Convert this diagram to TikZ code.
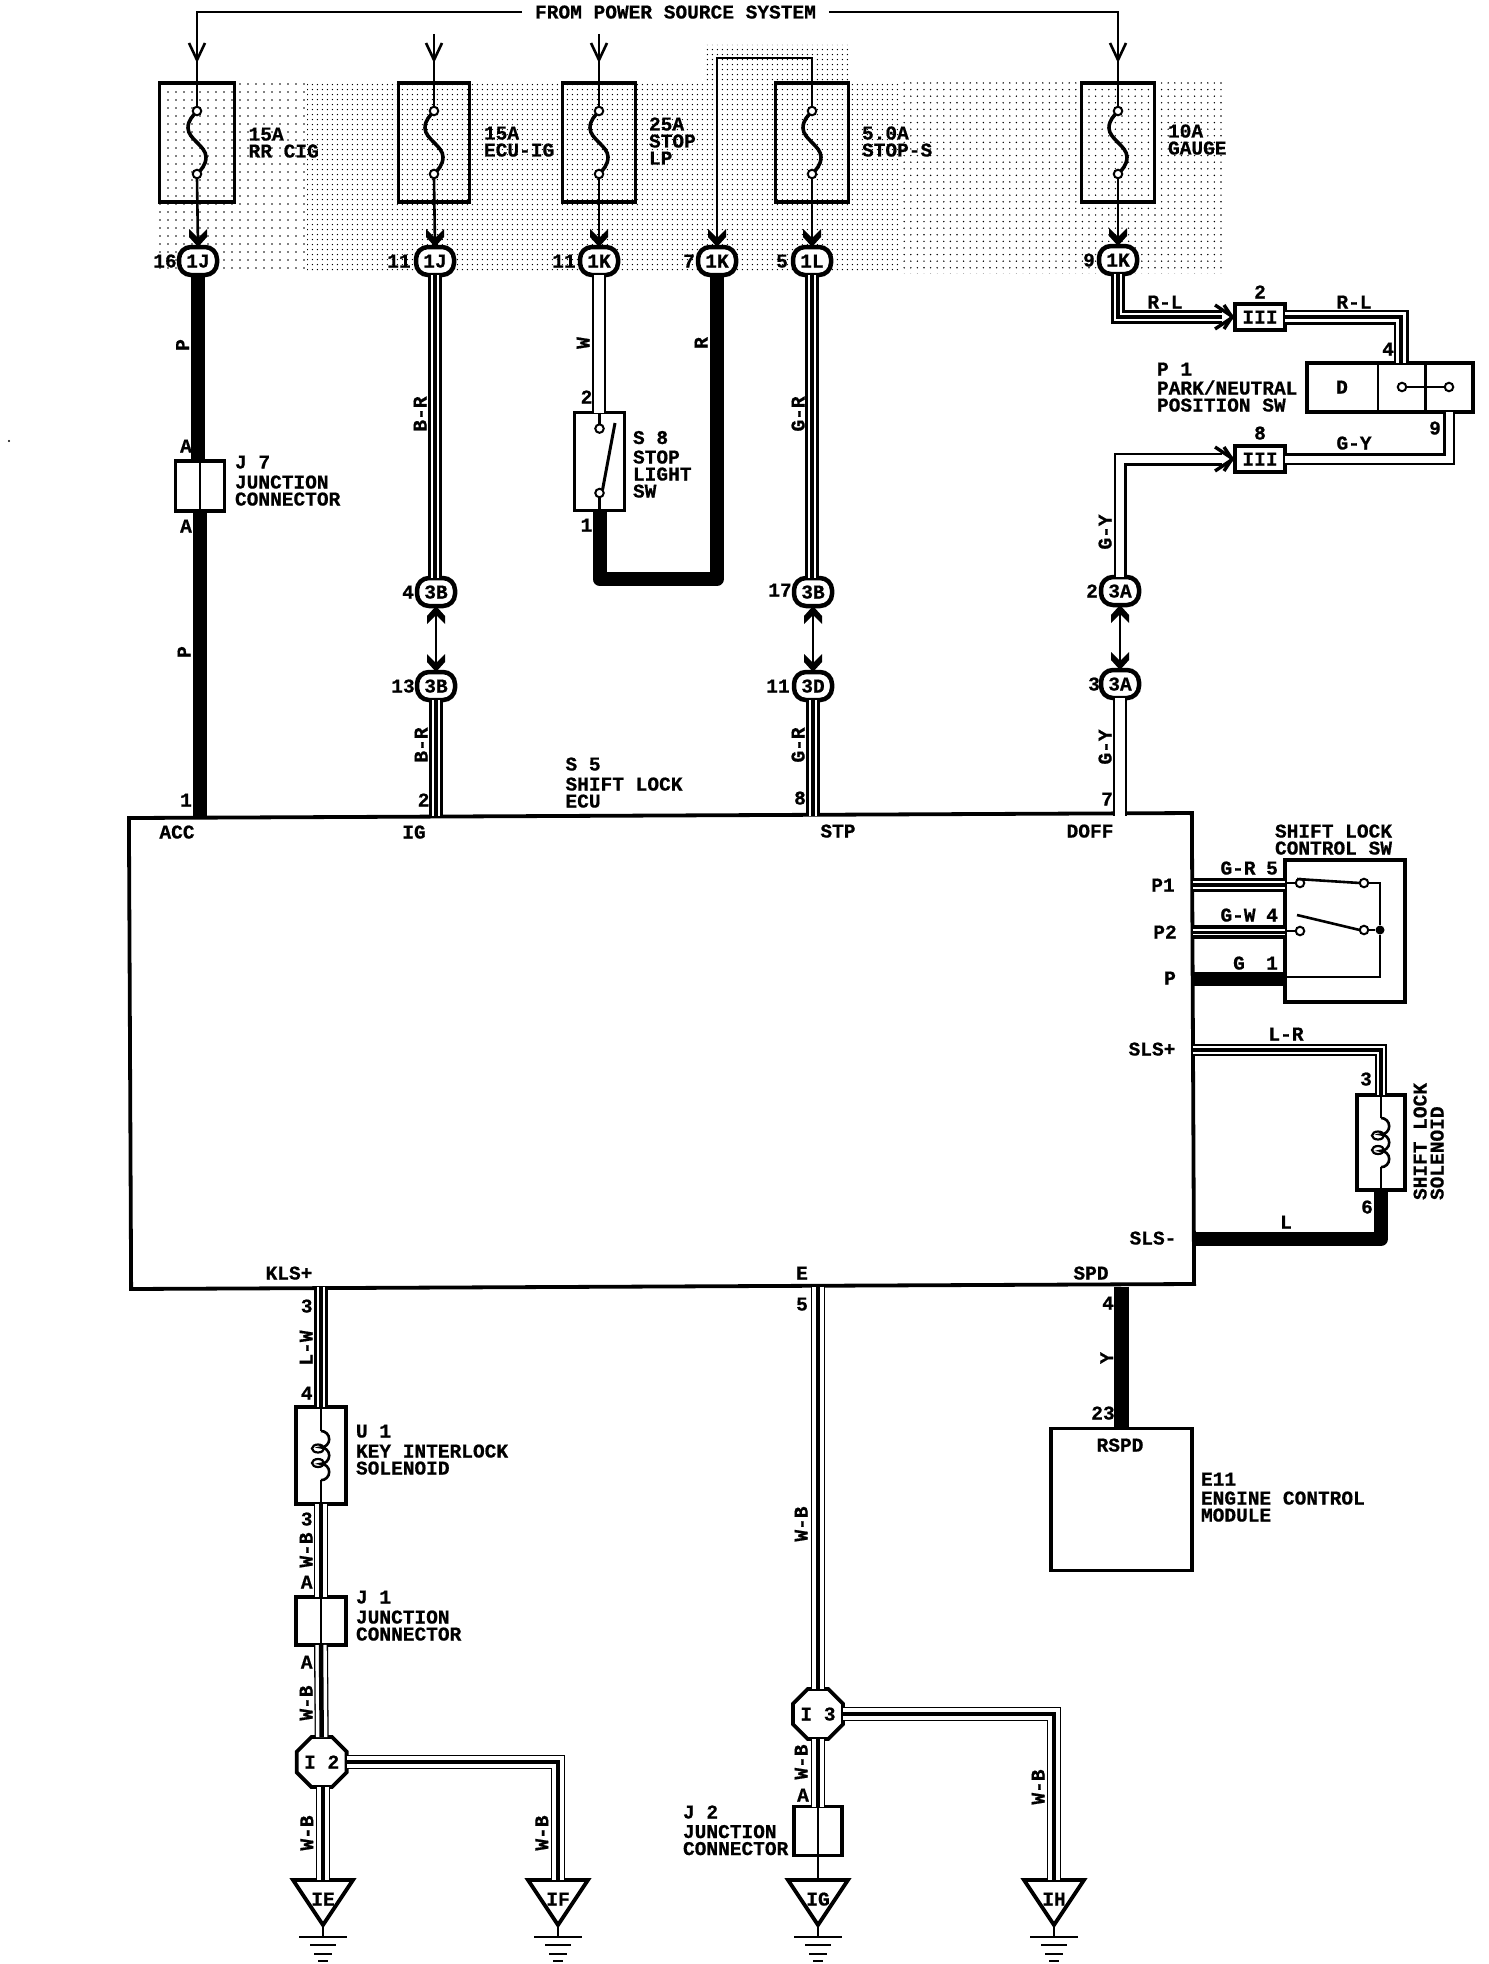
\documentclass[tikz,border=0pt]{standalone}
\usepackage{fontspec}
\setmainfont{Liberation Mono}[BoldFeatures={FakeBold=0.7}]
\usetikzlibrary{shapes.geometric,patterns.meta}
\newcommand{\lfont}{\bfseries\fontsize{19.5}{17}\selectfont}
\tikzset{
  txt/.style={font=\lfont,inner sep=0pt,outer sep=0pt,text height=13pt,text depth=0pt},
  lt/.style={txt,anchor=west},
  rt/.style={txt,rotate=90},
  boxn/.style={draw,line width=3.8pt,inner sep=0pt,outer sep=0pt,font=\lfont,text height=13pt,text depth=0pt},
  conn/.style={draw,fill=white,rounded corners=12pt,line width=4.5pt,minimum width=38pt,minimum height=28pt,inner sep=0pt,outer sep=0pt,font=\lfont,text height=13pt,text depth=0pt},
  term/.style={circle,draw,fill=white,line width=2pt,minimum size=8.5pt,inner sep=0pt,outer sep=0pt},
  octa/.style={regular polygon,regular polygon sides=8,draw,fill=white,line width=3.8pt,minimum size=54pt,inner sep=0pt,outer sep=0pt,font=\lfont,text height=13pt,text depth=0pt},
  thinw/.style={line width=2.6pt,line join=miter},
  fw/.style={line width=3.6pt},
  solidw/.style={line width=14pt,line join=round},
  stripew/.style n args={3}{line width=#1pt,line join=miter,postaction={draw,white,line width=#2pt},postaction={draw,black,line width=#3pt}},
  hollow/.style n args={2}{line width=#1pt,line join=miter,postaction={draw,white,line width=#2pt}},
  triplew/.style={stripew={13.5}{8.5}{4.5}},
  whitew/.style={hollow={13.5}{9.5}},
  groundw/.style={stripew={14}{11.4}{4.5}},
  openarr/.pic={\draw[line width=2.6pt,line join=miter] (-8,-17) -- (0,0) -- (8,-17);},
  solidarr/.pic={\fill (0,0) -- (-9,-10) -- (-9,-18) -- (0,-9) -- (9,-18) -- (9,-10) -- cycle;},
  dblarr/.pic={\draw[line width=3.4pt,line join=miter] (-12,-18) -- (0,0) -- (12,-18);\draw[line width=3.4pt,line join=miter] (-12,-9) -- (0,-1) -- (12,-9);}
}
\newcommand{\fusepart}[3]{%
  \node[boxn,minimum width=#3pt,minimum height=119pt] (#1) at (#2,142.5) {};
  \draw[fw,shift={(#2,0)}] (0,111) .. controls (-4,116) and (-9,120) .. (-9,128) .. controls (-9,139) and (9,146) .. (9,157) .. controls (9,165) and (4,170) .. (0,174);
  \node[term] (#1a) at (#2,111) {};
  \node[term] (#1b) at (#2,174) {};
}
\newcommand{\gndpart}[3]{%
  \draw[line width=3.8pt,line join=miter,shift={(#2,0)}] (-30,1880) -- (30,1880) -- (0,1925) -- cycle;
  \coordinate (#1top) at (#2,1880);
  \node[txt] (#1) at (#2,1899) {#3};
  \draw[line width=2.6pt,shift={(#2,0)}] (0,1925) -- (0,1937) (-24,1937) -- (24,1937) (-13,1945) -- (13,1945) (-9,1954) -- (9,1954) (-5,1961) -- (5,1961);
}
\newcommand{\coilpart}[2]{%
  \draw[line width=2.6pt] (#1,#2) arc[start angle=90,end angle=-90,radius=8.2pt] arc[start angle=90,end angle=-90,radius=8.2pt] arc[start angle=90,end angle=-90,radius=8.2pt];
  \draw[line width=2.2pt] (#1-3,#2+17.5) ellipse[x radius=6pt,y radius=4pt];
  \draw[line width=2.2pt] (#1-3,#2+32) ellipse[x radius=6pt,y radius=4pt];
}
\begin{document}
\begin{tikzpicture}[x=1pt,y=-1pt]
\useasboundingbox (0,0) rectangle (1488,1964);
\fill[white] (0,0) rectangle (1488,1964);
% stipple: sparser around the first fuse and between the last two
\fill[pattern={Dots[radius=0.8pt,distance=8pt]}] (153,83) rectangle (307,273);
\fill[pattern={Dots[radius=0.8pt,distance=5.4pt]}] (307,83) -- (705,83) -- (705,45) -- (850,45) -- (850,83) -- (900,83) -- (900,273) -- (307,273) -- cycle;
\fill[pattern={Dots[radius=0.8pt,distance=6.6pt]}] (900,83) rectangle (1225,273);
\fill (9,441) circle[radius=1.2pt];
% fuses
\fusepart{fa}{197}{75}
\fusepart{fb}{434}{71}
\fusepart{fc}{599}{73}
\fusepart{fd}{812}{73}
\fusepart{fe}{1118}{73}
% top title
\node[txt,inner xsep=13pt] (from) at (675.5,12) {FROM POWER SOURCE SYSTEM};
% connectors
\node[conn] (ca) at (198,261) {1J};
\node[conn] (cb) at (435,261) {1J};
\node[conn] (cc) at (599,261) {1K};
\node[conn] (cd) at (717,261) {1K};
\node[conn] (ce) at (812,261) {1L};
\node[conn] (cf) at (1118,260) {1K};
\node[conn] (cg) at (436,592) {3B};
\node[conn] (ch) at (436,686) {3B};
\node[conn] (ci) at (813,592) {3B};
\node[conn] (cj) at (813,686) {3D};
\node[conn] (ck) at (1120,591) {3A};
\node[conn] (cl) at (1120,684) {3A};
% boxes
\node[boxn,minimum width=1063pt,minimum height=471pt,rotate=0.27] (ecu) at (661.5,1051) {};
\node[boxn,minimum width=49pt,minimum height=50pt] (jseven) at (200,486) {};
\draw[line width=2.4pt] (jseven.north) -- (jseven.south);
\node[boxn,minimum width=50pt,minimum height=98pt] (seight) at (599.5,461.5) {};
\node[term] (sea) at (599.5,428.6) {};
\node[term] (seb) at (599.5,493) {};
\coordinate (sec) at (615,423);
\node[boxn,minimum width=50pt,minimum height=26pt] (iia) at (1260,317) {III};
\node[boxn,minimum width=50pt,minimum height=26pt] (iib) at (1260,459) {III};
\node[boxn,minimum width=166pt,minimum height=49pt] (pone) at (1390,387.5) {};
\draw[line width=2.4pt] (1378,363) -- (1378,412) (1425.6,363) -- (1425.6,412);
\node[txt] (dlab) at (1342,387) {D};
\node[term] (pa) at (1402,387) {};
\node[term] (pb) at (1449,387) {};
\draw[line width=2.6pt] (pa) -- (pb);
\node[boxn,minimum width=120pt,minimum height=142pt] (sw) at (1345,931) {};
\node[term] (swa) at (1300,883) {};
\node[term] (swb) at (1300,931) {};
\node[term] (swc) at (1364,883) {};
\node[term] (swd) at (1364,930) {};
\node[circle,fill,minimum size=9pt,inner sep=0pt] (swe) at (1380,930) {};
\coordinate (swf) at (1297,879);
\coordinate (swg) at (1297,915);
\draw[thinw] (swf) -- (swc.west);
\draw[thinw] (swg) -- (swd.west);
\draw[thinw] (swd.east) -- (swe);
\draw[thinw] (swc.east) -| (swe.north);
\draw[thinw] (swe.south) |- (sw.west |- 0,977);
\node[boxn,minimum width=48pt,minimum height=95pt] (sol) at (1381,1142.5) {};
\draw[line width=2.6pt] (sol.north) -- (1381,1118) (1381,1167) -- (sol.south);
\coilpart{1381}{1118}
\node[boxn,minimum width=50pt,minimum height=97pt] (uone) at (321,1455.5) {};
\draw[line width=2.6pt] (uone.north) -- (321,1431) (321,1480) -- (uone.south);
\coilpart{321}{1431}
\node[boxn,minimum width=50pt,minimum height=48pt] (jone) at (321,1621) {};
\draw[line width=2.6pt] (jone.north) -- (jone.south);
\node[octa] (itwo) at (321.7,1762) {I 2};
\node[octa] (ithree) at (818,1714) {I 3};
\node[boxn,minimum width=48pt,minimum height=49pt] (jtwo) at (818,1831) {};
\node[boxn,minimum width=141pt,minimum height=142pt] (eng) at (1121.5,1499.5) {};
\gndpart{gie}{323}{IE}
\gndpart{gif}{558}{IF}
\gndpart{gig}{818}{IG}
\gndpart{gih}{1054}{IH}
% inputs
\draw[thinw] (from.west) -| (fa.north);
\draw[thinw] (from.east) -| (fe.north);
\draw[thinw] (fa.north) -- (faa.north);
\draw[thinw] (fe.north) -- (fea.north);
\coordinate (inb) at (434,34);
\coordinate (inc) at (599,34);
\draw[thinw] (inb) -- (fba.north);
\draw[thinw] (inc) -- (fca.north);
\path (197,60) pic {openarr};
\path (434,60) pic {openarr};
\path (599,60) pic {openarr};
\path (1118,60) pic {openarr};
\draw[thinw] (cd.north) |- (812,58) -- (fda.north);
% fuse outputs
\foreach \f/\c in {fab/ca,fbb/cb,fcb/cc,fdb/ce,feb/cf}{
  \draw[thinw] (\f.south) -- (\c.north);
  \path (\c.north) pic {solidarr};
}
\path (cd.north) pic {solidarr};
% vertical wires
\draw[solidw] (ca.south) -- (ca |- jseven.north);
\draw[solidw] (jseven.south) -- (jseven.south |- ecu.north);
\draw[triplew] (cb.south) -- (cb.south |- cg.north);
\draw[triplew] (ch.south) -- (ch.south |- ecu.north);
\draw[thinw] (cg.south) -- (ch.north);
\path (cg.south) pic[rotate=180] {solidarr};
\path (ch.north) pic {solidarr};
\draw[whitew] (cc.south) -- (cc.south |- seight.north);
\draw[thinw] (seight.north) -- (sea.north);
\draw[thinw] (seb.south) -- (seight.south);
\draw[line width=3pt] (seb.north east) -- (sec);
\draw[solidw] (seight.south) |- (cd |- 0,579) -- (cd.south);
\draw[triplew] (ce.south) -- (ce.south |- ci.north);
\draw[triplew] (cj.south) -- (cj.south |- ecu.north);
\draw[thinw] (ci.south) -- (cj.north);
\path (ci.south) pic[rotate=180] {solidarr};
\path (cj.north) pic {solidarr};
% right column
\coordinate (arra) at (1233,317);
\coordinate (arrb) at (1233,459);
\draw[triplew] (cf.south) |- (1222,317);
\path (arra) pic[rotate=90] {dblarr};
\draw[stripew={15}{9.5}{4.5}] (iia.east) -| (1401,363);
\draw[hollow={11.5}{7}] (pb |- pone.south) |- (iib.east);
\draw[hollow={13}{7.5}] (ck.north) |- (1222,459);
\path (arrb) pic[rotate=90] {dblarr};
\draw[thinw] (ck.south) -- (cl.north);
\path (ck.south) pic[rotate=180] {solidarr};
\path (cl.north) pic {solidarr};
\draw[whitew] (cl.south) -- (cl.south |- ecu.north);
% ECU right
\draw[triplew] (ecu.east |- 0,885) -- (sw.west |- 0,885);
\draw[thinw] (sw.west |- 0,883) -- (swa.west);
\draw[stripew={14}{6}{3}] (ecu.east |- 0,932) -- (sw.west |- 0,932);
\draw[thinw] (sw.west |- 0,931) -- (swb.west);
\draw[solidw] (ecu.east |- 0,979) -- (sw.west |- 0,979);
\draw[stripew={12}{7.5}{3.5}] (ecu.east |- 0,1050) -| (sol.north);
\draw[solidw] (sol.south) |- (ecu.east |- 0,1239);
\draw[solidw,line width=15pt] (ecu.south -| eng.north) -- (eng.north);
% bottom wires
\draw[triplew] (ecu.south -| uone.north) -- (uone.north);
\draw[groundw] (uone.south) -- (jone.north);
\draw[groundw] (jone.south) -- (itwo.north);
\draw[groundw] (itwo.south -| gietop) -- (gietop);
\draw[groundw] (itwo.east) -| (giftop);
\draw[groundw] (ecu.south -| ithree.north) -- (ithree.north);
\draw[groundw] (ithree.south) -- (jtwo.north);
\draw[thinw] (jtwo.north) -- (jtwo.south) -- (gigtop);
\draw[groundw] (ithree.east) -| (gihtop);
% fuse labels
\node[lt] (la) at (248.6,134) {15A};
\node[lt] (lb) at (248.6,151) {RR CIG};
\node[lt] (lc) at (484,133) {15A};
\node[lt] (ld) at (484,150) {ECU-IG};
\node[lt] (le) at (649,124) {25A};
\node[lt] (lf) at (649,141) {STOP};
\node[lt] (lg) at (649,158) {LP};
\node[lt] (lh) at (862,133) {5.0A};
\node[lt] (li) at (862,150) {STOP-S};
\node[lt] (lj) at (1168,131) {10A};
\node[lt] (lk) at (1168,148) {GAUGE};
% pin numbers at connectors
\node[txt] (na) at (165,261) {16};
\node[txt] (nb) at (399,261) {11};
\node[txt] (nc) at (564,261) {11};
\node[txt] (nd) at (689,261) {7};
\node[txt] (ne) at (782,261) {5};
\node[txt] (nf) at (1089,260) {9};
\node[txt] (ng) at (408,592) {4};
\node[txt] (nh) at (403,686) {13};
\node[txt] (ni) at (780,590) {17};
\node[txt] (nj) at (778,686) {11};
\node[txt] (nk) at (1092,591) {2};
\node[txt] (nl) at (1094,684) {3};
% wire labels left column
\node[rt] (wa) at (182.5,345) {P};
\node[txt] (wb) at (186,446) {A};
\node[txt] (wc) at (186,526) {A};
\node[rt] (wd) at (184,652) {P};
\node[txt] (we) at (186,800) {1};
\node[lt] (wf) at (235,462) {J 7};
\node[lt] (wg) at (235,482) {JUNCTION};
\node[lt] (wh) at (235,499) {CONNECTOR};
\node[rt] (wi) at (420,414) {B-R};
\node[rt] (wj) at (421,745) {B-R};
\node[txt] (wk) at (423.6,800) {2};
\node[rt] (wl) at (583,343) {W};
\node[txt] (wm) at (586.5,397) {2};
\node[txt] (wn) at (586.5,525) {1};
\node[lt] (wo) at (633,437.5) {S 8};
\node[lt] (wp) at (633,457) {STOP};
\node[lt] (wq) at (633,474) {LIGHT};
\node[lt] (wr) at (633,491) {SW};
\node[rt] (ws) at (701,343) {R};
\node[rt] (wt) at (798,414) {G-R};
\node[rt] (wu) at (798,745) {G-R};
\node[txt] (wv) at (800,798) {8};
\node[lt] (ww) at (565.5,764) {S 5};
\node[lt] (wx) at (565.5,784) {SHIFT LOCK};
\node[lt] (wy) at (565.5,801) {ECU};
% right column labels
\node[txt] (ra) at (1165,302) {R-L};
\node[txt] (rb) at (1354,302) {R-L};
\node[txt] (rc) at (1260,292) {2};
\node[txt] (rd) at (1388,349) {4};
\node[lt] (re) at (1157,369) {P 1};
\node[lt] (rf) at (1157,388) {PARK/NEUTRAL};
\node[lt] (rg) at (1157,405) {POSITION SW};
\node[txt] (rh) at (1435,428) {9};
\node[txt] (ri) at (1260,433) {8};
\node[txt] (rj) at (1354,443) {G-Y};
\node[rt] (rk) at (1105,532) {G-Y};
\node[rt] (rl) at (1105,747) {G-Y};
\node[txt] (rm) at (1107,799) {7};
% ECU inner labels
\node[txt] (ea) at (177,832) {ACC};
\node[txt] (eb) at (414,832) {IG};
\node[txt] (ec) at (838,831) {STP};
\node[txt] (ed) at (1090,831) {DOFF};
\node[txt] (ee) at (1163,885) {P1};
\node[txt] (ef) at (1165,932) {P2};
\node[txt] (eg) at (1170,978) {P};
\node[txt] (eh) at (1152,1049) {SLS+};
\node[txt] (ei) at (1153,1238) {SLS-};
\node[txt] (ej) at (1091,1273) {SPD};
\node[txt] (ek) at (802,1273) {E};
\node[txt] (el) at (289,1273) {KLS+};
% switch labels
\node[lt] (sa) at (1275,831) {SHIFT LOCK};
\node[lt] (sb) at (1275,848) {CONTROL SW};
\node[txt] (sc) at (1238,868) {G-R};
\node[txt] (sd) at (1272,868) {5};
\node[txt] (se) at (1238,915) {G-W};
\node[txt] (sf) at (1272,915) {4};
\node[txt] (sg) at (1239,963) {G};
\node[txt] (sh) at (1272,963) {1};
\node[txt] (si) at (1286,1034) {L-R};
\node[txt] (sj) at (1366,1079) {3};
\node[txt] (sk) at (1367,1207) {6};
\node[txt] (sl) at (1286,1222) {L};
\node[txt,rotate=90,anchor=west] (sm) at (1420,1200) {SHIFT LOCK};
\node[txt,rotate=90,anchor=west] (sn) at (1437,1200) {SOLENOID};
% bottom labels
\node[txt] (ba) at (306.7,1306) {3};
\node[rt] (bb) at (306,1348) {L-W};
\node[txt] (bc) at (306.7,1393) {4};
\node[lt] (bd) at (356,1431) {U 1};
\node[lt] (be) at (356,1451) {KEY INTERLOCK};
\node[lt] (bf) at (356,1468) {SOLENOID};
\node[txt] (bg) at (306.7,1519) {3};
\node[rt] (bh) at (306,1550) {W-B};
\node[txt] (bi) at (306.7,1582) {A};
\node[lt] (bj) at (356,1597) {J 1};
\node[lt] (bk) at (356,1617) {JUNCTION};
\node[lt] (bl) at (356,1634) {CONNECTOR};
\node[txt] (bm) at (306.7,1662) {A};
\node[rt] (bn) at (306,1703) {W-B};
\node[rt] (bo) at (306.7,1833) {W-B};
\node[rt] (bp) at (541.7,1833) {W-B};
\node[txt] (bq) at (802,1304) {5};
\node[rt] (br) at (801,1524) {W-B};
\node[rt] (bs) at (801,1762) {W-B};
\node[txt] (bt) at (803,1795) {A};
\node[lt] (bu) at (683,1812) {J 2};
\node[lt] (bv) at (683,1831.5) {JUNCTION};
\node[lt] (bw) at (683,1848.5) {CONNECTOR};
\node[rt] (bx) at (1038,1787) {W-B};
\node[txt] (by) at (1108,1303) {4};
\node[rt] (bz) at (1106.6,1358) {Y};
\node[txt] (ca2) at (1103,1413) {23};
\node[txt] (cb2) at (1120,1445) {RSPD};
\node[lt] (cc2) at (1201,1479) {E11};
\node[lt] (cd2) at (1201,1498) {ENGINE CONTROL};
\node[lt] (ce2) at (1201,1515) {MODULE};
\end{tikzpicture}
\end{document}
